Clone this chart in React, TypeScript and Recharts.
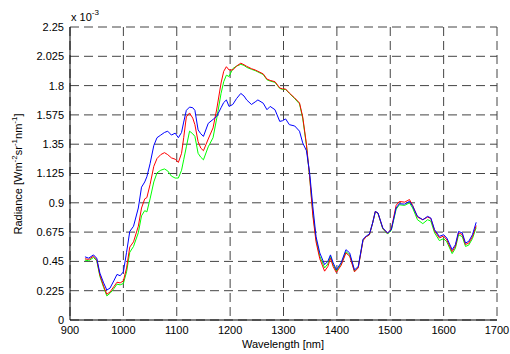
import { LineChart, Line, XAxis, YAxis, CartesianGrid } from 'recharts'

// wavelength in nm, radiance in units of 1e-3 W m^-2 sr^-1 nm^-1
const wavelengths = [
  928, 935, 944, 950, 956, 963, 969, 975, 982, 988, 994, 1000, 1006, 1012, 1019, 1028, 1034, 1040, 1044, 1050,
  1057, 1063, 1070, 1077, 1083, 1090, 1097, 1103, 1109, 1113, 1118, 1124, 1130, 1134, 1140, 1145, 1150, 1159, 1168, 1175,
  1183, 1188, 1193, 1198, 1205, 1212, 1220, 1226, 1231, 1240, 1247, 1252, 1262, 1269, 1275, 1284, 1293, 1298, 1304, 1311,
  1321, 1330, 1336, 1343, 1349, 1355, 1361, 1368, 1377, 1383, 1388, 1393, 1399, 1408, 1417, 1424, 1433, 1440, 1449, 1455,
  1461, 1467, 1472, 1477, 1486, 1495, 1502, 1511, 1517, 1527, 1536, 1542, 1551, 1561, 1570, 1576, 1583, 1592, 1600, 1606,
  1616, 1622, 1628, 1635, 1641, 1647, 1654, 1661
]

const blueRadiance = [
  0.485, 0.475, 0.5, 0.475, 0.36, 0.285, 0.23, 0.245, 0.3, 0.35, 0.34, 0.37, 0.52, 0.68, 0.72, 0.86, 1.02, 1.06, 1.1, 1.2,
  1.34, 1.4, 1.42, 1.44, 1.45, 1.42, 1.435, 1.4, 1.44, 1.52, 1.61, 1.635, 1.63, 1.61, 1.46, 1.43, 1.41, 1.51, 1.54, 1.565,
  1.63, 1.67, 1.69, 1.64, 1.655, 1.7, 1.74, 1.72, 1.69, 1.655, 1.675, 1.69, 1.665, 1.615, 1.64, 1.615, 1.525, 1.53, 1.544, 1.5,
  1.49, 1.45, 1.36, 1.3, 1.13, 0.87, 0.64, 0.515, 0.425, 0.45, 0.5, 0.44, 0.385, 0.44, 0.54, 0.515, 0.385, 0.41, 0.62, 0.645,
  0.66, 0.745, 0.834, 0.822, 0.707, 0.668, 0.694, 0.86, 0.893, 0.89, 0.911, 0.873, 0.796, 0.77, 0.796, 0.783, 0.694, 0.642, 0.655, 0.63,
  0.54, 0.578, 0.68, 0.668, 0.591, 0.604, 0.655, 0.75
]

const redRadiance = [
  0.47, 0.465, 0.49, 0.465, 0.345, 0.26, 0.198, 0.215, 0.255, 0.29, 0.285, 0.3, 0.4, 0.56, 0.6, 0.72, 0.86, 0.93, 0.94, 1.04,
  1.18, 1.24, 1.27, 1.285, 1.27, 1.245, 1.235, 1.21, 1.28, 1.4, 1.56, 1.59, 1.55, 1.5, 1.37, 1.32, 1.3, 1.39, 1.475, 1.62,
  1.82, 1.91, 1.945, 1.92, 1.92, 1.95, 1.972, 1.96, 1.948, 1.93, 1.92, 1.91, 1.89, 1.85, 1.84, 1.83, 1.782, 1.775, 1.774, 1.743,
  1.705, 1.667, 1.56, 1.35, 1.1, 0.8, 0.6, 0.47, 0.375, 0.41, 0.475, 0.41, 0.365, 0.42, 0.515, 0.49, 0.37, 0.4, 0.61, 0.64,
  0.655, 0.745, 0.834, 0.82, 0.705, 0.665, 0.7, 0.88, 0.91, 0.905, 0.925, 0.88, 0.79, 0.77, 0.79, 0.78, 0.685, 0.63, 0.645, 0.615,
  0.525, 0.565, 0.67, 0.655, 0.58, 0.59, 0.64, 0.725
]

const greenRadiance = [
  0.46, 0.455, 0.48, 0.455, 0.335, 0.25, 0.185, 0.205, 0.24, 0.275, 0.27, 0.28, 0.37, 0.52, 0.565, 0.67, 0.8, 0.84, 0.83, 0.93,
  1.06, 1.13, 1.15, 1.16, 1.145, 1.105, 1.09, 1.09, 1.15, 1.23, 1.33, 1.45, 1.43, 1.41, 1.28, 1.25, 1.23, 1.33, 1.4, 1.55,
  1.74, 1.83, 1.88, 1.87, 1.93, 1.95, 1.963, 1.955, 1.94, 1.925, 1.915, 1.905, 1.885, 1.845, 1.835, 1.825, 1.778, 1.77, 1.77, 1.74,
  1.7, 1.66, 1.55, 1.34, 1.1, 0.82, 0.62, 0.49, 0.4, 0.43, 0.49, 0.425, 0.375, 0.43, 0.525, 0.5, 0.375, 0.405, 0.615, 0.64,
  0.655, 0.745, 0.83, 0.82, 0.7, 0.66, 0.69, 0.85, 0.885, 0.88, 0.9, 0.86, 0.77, 0.74, 0.77, 0.76, 0.67, 0.61, 0.625, 0.6,
  0.51, 0.55, 0.655, 0.64, 0.565, 0.575, 0.625, 0.71
]

const xTicks = [900, 1000, 1100, 1200, 1300, 1400, 1500, 1600, 1700]
const yTicks = [0, 0.225, 0.45, 0.675, 0.9, 1.125, 1.35, 1.575, 1.8, 2.025, 2.25]
const yTickLabels = ['0', '0.225', '0.45', '0.675', '0.9', '1.125', '1.35', '1.575', '1.8', '2.025', '2.25']

const chartData = wavelengths.map((w, i) => ({
  wavelength: w,
  red: redRadiance[i],
  green: greenRadiance[i],
  blue: blueRadiance[i]
}))

const tickStyle = { fill: '#000', fontSize: 11 }

export default function App() {
  return (
    <div
      style={{
        position: 'absolute',
        left: 0,
        top: 0,
        width: 510,
        height: 354,
        background: '#fff',
        fontFamily: '"Liberation Sans", Arial, sans-serif'
      }}
    >
      <LineChart
        width={510}
        height={354}
        data={chartData}
        margin={{ top: 27, right: 13, bottom: 14, left: 8 }}
      >
        <CartesianGrid stroke="#444" strokeDasharray="9 5" />
        <XAxis
          dataKey="wavelength"
          type="number"
          domain={[900, 1700]}
          ticks={xTicks}
          height={20}
          stroke="#000"
          tickLine={false}
          tickSize={0}
          tickMargin={6}
          tick={tickStyle}
        />
        <XAxis
          xAxisId="top"
          orientation="top"
          type="number"
          domain={[900, 1700]}
          height={0}
          stroke="#000"
          tick={false}
          tickLine={false}
        />
        <YAxis
          type="number"
          domain={[0, 2.25]}
          ticks={yTicks}
          width={62}
          stroke="#000"
          tickLine={false}
          tickSize={0}
          tickMargin={6}
          tick={tickStyle}
          tickFormatter={(v) => yTickLabels[yTicks.indexOf(v)] ?? String(v)}
        />
        <YAxis
          yAxisId="right"
          orientation="right"
          type="number"
          domain={[0, 2.25]}
          width={0}
          stroke="#000"
          tick={false}
          tickLine={false}
        />
        <Line type="linear" dataKey="green" stroke="#00ff00" strokeWidth={1} dot={false} isAnimationActive={false} />
        <Line type="linear" dataKey="red" stroke="#ff0000" strokeWidth={1} dot={false} isAnimationActive={false} />
        <Line type="linear" dataKey="blue" stroke="#0000ff" strokeWidth={1} dot={false} isAnimationActive={false} />
      </LineChart>
      <svg
        width={510}
        height={354}
        style={{ position: 'absolute', left: 0, top: 0, pointerEvents: 'none' }}
      >
        <text x={71} y={21} fontSize={11} fill="#000">
          x 10<tspan dy={-6} fontSize={8}>-3</tspan>
        </text>
        <text x={283} y={348} fontSize={11} fill="#000" textAnchor="middle">
          Wavelength [nm]
        </text>
        <text
          transform="translate(22, 174) rotate(-90)"
          fontSize={11}
          fill="#000"
          textAnchor="middle"
        >
          Radiance [Wm<tspan dy={-5} fontSize={8}>-2</tspan>
          <tspan dy={5}>sr</tspan>
          <tspan dy={-5} fontSize={8}>-1</tspan>
          <tspan dy={5}>nm</tspan>
          <tspan dy={-5} fontSize={8}>-1</tspan>
          <tspan dy={5}>]</tspan>
        </text>
      </svg>
    </div>
  )
}
